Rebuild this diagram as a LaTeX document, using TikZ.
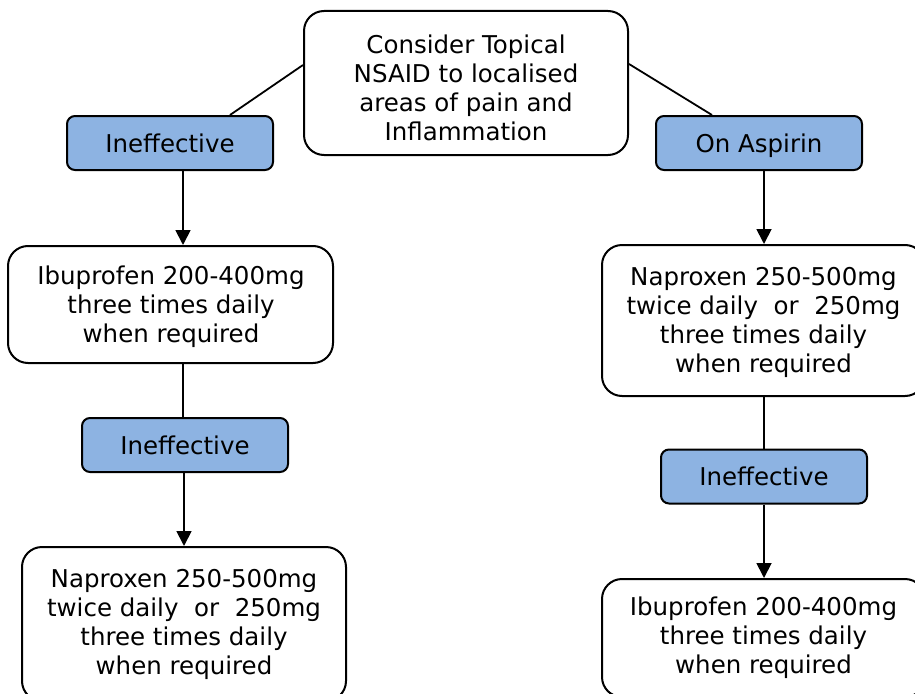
\documentclass[tikz,border=0pt]{standalone}
\usepackage{fontspec}
\setmainfont{DejaVu Sans}
\usetikzlibrary{arrows.meta}
\definecolor{boxblue}{RGB}{141,179,226}
\begin{document}
\begin{tikzpicture}[x=1pt,y=-1pt,
  every node/.style={font=\fontsize{24.5}{29}\selectfont, align=center, inner sep=0pt},
  whitebox/.style={draw=black, line width=2pt, rounded corners=20pt, fill=white},
  bluebox/.style={draw=black, line width=2pt, rounded corners=8pt, fill=boxblue, minimum width=206pt, minimum height=54pt, text height=18pt, text depth=0pt},
  conn/.style={draw=black, line width=1.8pt},
  arr/.style={conn, -{Triangle[width=15pt,length=15pt]}}]
\useasboundingbox (0,0) rectangle (915,693);
\coordinate (cl) at (183,0);
\coordinate (cr) at (764,0);
\node[whitebox, minimum width=324pt, minimum height=144pt] (top) at (466,83) {};
\node at (466,88) (toptext) {Consider Topical\\NSAID to localised\\areas of pain and\\Inflammation};
\node[bluebox] (ineff1) at (170,143) {Ineffective};
\node[bluebox] (aspirin) at (759,143) {On Aspirin};
\node[whitebox, minimum width=325pt, minimum height=117pt] (ibu1) at (170.5,304.5) {};
\node at (171,307) (ibu1text) {Ibuprofen 200-400mg\\three times daily\\when required};
\node[bluebox] (ineff2) at (185,445) {Ineffective};
\node[whitebox, minimum width=324pt, minimum height=154pt] (napl) at (184,624) {Naproxen 250-500mg\\twice daily~~or~~250mg\\three times daily\\when required};
\node[whitebox, minimum width=323pt, minimum height=151pt] (napr) at (763.5,320.5) {};
\node at (763.5,322.5) (naprtext) {Naproxen 250-500mg\\twice daily~~or~~250mg\\three times daily\\when required};
\node[bluebox] (ineffr) at (764,476.5) {Ineffective};
\node[whitebox, minimum width=323pt, minimum height=118pt] (ibur) at (763.5,638) {Ibuprofen 200-400mg\\three times daily\\when required};
\draw[conn] ([yshift=18pt]top.west) -- ([xshift=60pt]ineff1.north);
\draw[conn] ([yshift=19pt]top.east) -- ([xshift=-47pt]aspirin.north);
\draw[arr] (ineff1.south -| cl) -- (ibu1.north -| cl);
\draw[conn] (ibu1.south -| cl) -- (ineff2.north -| cl);
\draw[arr] (ineff2.south -| napl) -- (napl.north);
\draw[arr] (aspirin.south -| cr) -- (napr.north -| cr);
\draw[conn] (napr.south -| cr) -- (ineffr.north -| cr);
\draw[arr] (ineffr.south -| cr) -- (ibur.north -| cr);
\end{tikzpicture}
\end{document}
